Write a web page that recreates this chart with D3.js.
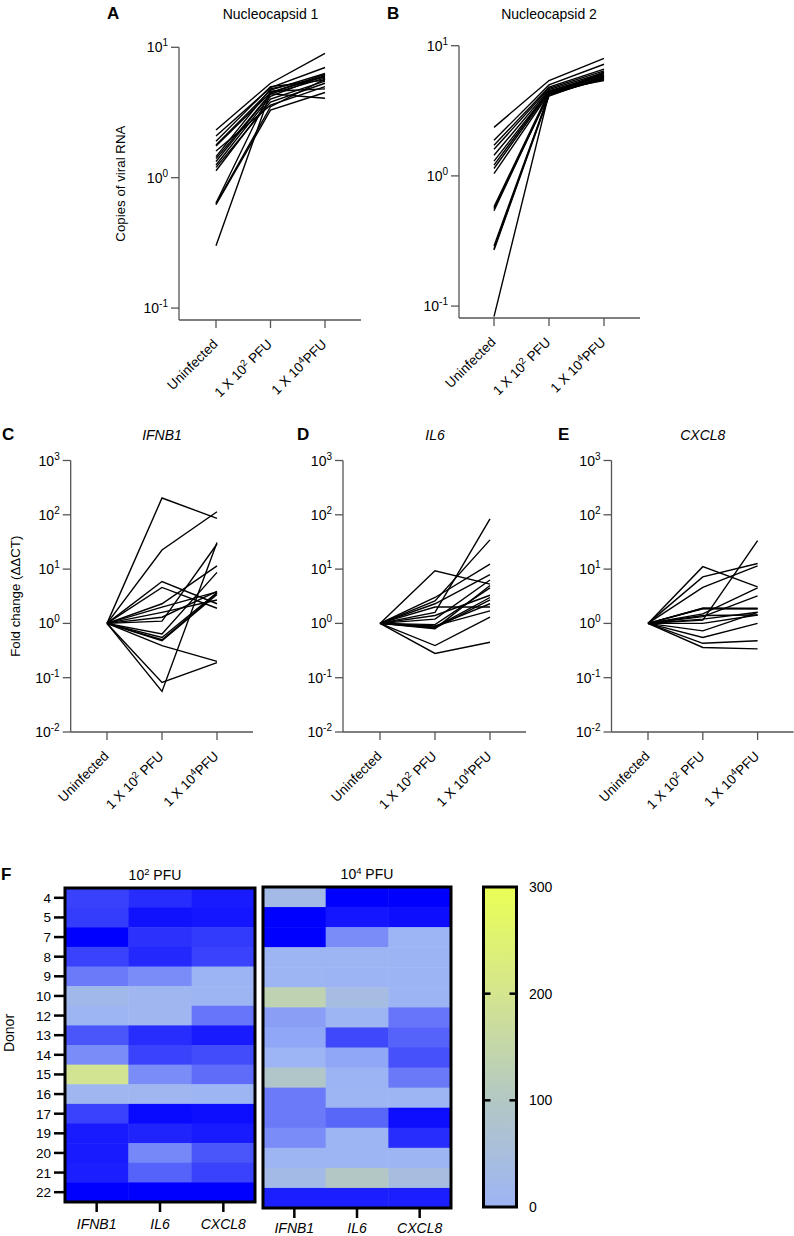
<!DOCTYPE html>
<html><head><meta charset="utf-8">
<script src="https://cdn.jsdelivr.net/npm/d3@7"></script>
<style>
body{margin:0;background:#fff;}
svg text{font-family:"Liberation Sans",Arial,sans-serif;fill:#000;}
</style></head>
<body>
<svg id="chart" width="794" height="1236"></svg>
<script>
// ---------- DATA ----------
const categories = ["Uninfected", "1 X 10^2 PFU", "1 X 10^4PFU"];
const categoryLabels = [["Uninfected"], ["1 X 10", "2", " PFU"], ["1 X 10", "4", "PFU"]];
const nucTicks = [0.1, 1, 10];
const foldTicks = [0.01, 0.1, 1, 10, 100, 1000];

// Nucleocapsid 1 : one row per donor [uninfected, 1x10^2, 1x10^4]
const nuc1 = [
  [2.32, 5.3, 9.0], [2.09, 4.9, 7.0], [1.78, 4.7, 6.3], [1.75, 4.5, 6.0],
  [1.45, 4.8, 5.9], [1.33, 4.4, 5.8], [1.25, 4.2, 6.1], [1.13, 4.0, 5.5],
  [1.2, 3.8, 5.3], [0.64, 4.6, 4.8], [0.63, 3.5, 5.7], [0.62, 3.3, 4.5],
  [0.30, 4.5, 6.2], [1.4, 4.4, 4.07], [1.9, 5.0, 5.6], [1.6, 3.6, 5.0]
];
const nuc2 = [
  [2.36, 5.4, 8.0], [1.88, 5.0, 7.2], [1.72, 4.8, 6.6], [1.44, 4.6, 6.2],
  [1.21, 4.5, 6.0], [1.14, 4.4, 5.9], [1.04, 4.3, 5.7], [0.56, 4.2, 5.6],
  [0.54, 4.3, 5.5], [0.275, 4.2, 6.3], [0.27, 4.1, 5.8], [0.083, 4.3, 5.9],
  [1.6, 4.7, 6.4], [1.3, 4.5, 5.4], [0.58, 4.4, 6.1], [0.29, 4.2, 5.7]
];
const ifnb1 = [
  [1, 204, 86], [1, 22.5, 114], [1, 0.056, 31], [1, 0.082, 0.19],
  [1, 0.39, 0.2], [1, 5.9, 2.3], [1, 4.6, 1.9], [1, 2.3, 11.5],
  [1, 1.1, 29], [1, 0.64, 8.7], [1, 0.55, 3.7], [1, 0.5, 3.6],
  [1, 0.48, 3.4], [1, 1.6, 2.7], [1, 2.0, 3.8], [1, 1.3, 3.9]
];
const il6 = [
  [1, 9.3, 5.3], [1, 1.6, 84], [1, 2.6, 34.5], [1, 0.28, 0.45],
  [1, 0.39, 1.3], [1, 3.0, 12.4], [1, 2.3, 7.9], [1, 1.2, 6.3],
  [1, 0.85, 3.0], [1, 0.82, 2.7], [1, 0.88, 2.3], [1, 0.9, 1.7],
  [1, 1.4, 3.3], [1, 0.95, 4.5], [1, 2.0, 2.0], [1, 0.8, 5.0]
];
const cxcl8 = [
  [1, 11.1, 4.7], [1, 7.2, 12.7], [1, 4.6, 11.5], [1, 1.15, 33.5],
  [1, 1.9, 1.85], [1, 1.85, 1.85], [1, 1.5, 4.5], [1, 1.33, 3.2],
  [1, 1.2, 1.6], [1, 1.0, 1.43], [1, 0.73, 1.6], [1, 0.55, 1.0],
  [1, 0.43, 0.48], [1, 0.36, 0.34], [1, 1.4, 1.43], [1, 1.9, 1.9]
];

// Heatmap
const donors = ["4","5","7","8","9","10","12","13","14","15","16","17","19","20","21","22"];
const genes = ["IFNB1", "IL6", "CXCL8"];
const heat102IFNB1 = [-64,-66,-100,-63,-32,20,5,-53,-22,195,10,-63,-85,-85,-83,-100];
const heat102IL6   = [-75,-90,-72,-78,-22,8,8,-75,-63,-22,10,-95,-80,-25,-45,-100];
const heat102CXCL8 = [-85,-88,-68,-63,2,3,-35,-85,-58,-40,5,-92,-85,-52,-63,-100];
const heat104IFNB1 = [30,-100,-100,3,3,135,-12,-8,0,90,-32,-32,-22,5,30,-83];
const heat104IL6   = [-100,-88,-22,3,2,40,5,-60,-8,2,5,-43,5,5,100,-83];
const heat104CXCL8 = [-100,-92,0,2,2,2,-35,-45,-55,-33,5,-92,-75,5,45,-83];
const colorTicks = [0, 100, 200, 300];

// ---------- DRAW ----------
const svg = d3.select("#chart");
const AXIS = "#555";

function supText(sel, parts, supSize, shift) {
  sel.append("tspan").text(parts[0]);
  if (parts.length > 1) {
    sel.append("tspan").attr("dy", -shift).attr("font-size", supSize).text(parts[1]);
    sel.append("tspan").attr("dy", shift).text(parts[2]);
  }
}
function powParts(v) {
  const e = Math.round(Math.log10(v));
  return ["10", e < 0 ? "-" + Math.abs(e) : String(e), ""];
}

function linePanel(o) {
  const g = svg.append("g");
  const x = d3.scalePoint().domain(categories).range([o.x0, o.x0 + 2 * o.step]);
  const y = d3.scaleLog().domain(o.domain).range([o.yBottom, o.yTop]);
  // y axis
  g.append("line").attr("x1", o.axisX).attr("x2", o.axisX).attr("y1", y(o.ticks[o.ticks.length-1])).attr("y2", o.yBottom)
    .attr("stroke", AXIS).attr("stroke-width", 1.3);
  o.ticks.forEach(t => {
    g.append("line").attr("x1", o.axisX - 8).attr("x2", o.axisX).attr("y1", y(t)).attr("y2", y(t))
      .attr("stroke", AXIS).attr("stroke-width", 1.3);
    const tx = g.append("text").attr("x", o.axisX - 11).attr("y", y(t) + 5).attr("text-anchor", "end")
      .attr("font-size", 14);
    supText(tx, powParts(t), 10, 6);
  });
  // x axis
  const xEnd = o.x0 + 2 * o.step + 36;
  g.append("line").attr("x1", o.axisX).attr("x2", xEnd).attr("y1", o.yBottom).attr("y2", o.yBottom)
    .attr("stroke", AXIS).attr("stroke-width", 1.3);
  categories.forEach((c, i) => {
    const cx = x(c);
    g.append("line").attr("x1", cx).attr("x2", cx).attr("y1", o.yBottom).attr("y2", o.yBottom + 8)
      .attr("stroke", AXIS).attr("stroke-width", 1.3);
    const tx = g.append("text").attr("text-anchor", "end").attr("font-size", 13.5)
      .attr("transform", `translate(${cx + 2.5},${o.yBottom + 25}) rotate(-45)`);
    supText(tx, categoryLabels[i], 9.5, 5);
  });
  // lines
  const line = d3.line().x((d, i) => x(categories[i])).y(d => y(d));
  g.selectAll("path.dl").data(o.data).join("path").attr("class", "dl")
    .attr("d", line).attr("fill", "none").attr("stroke", "#000").attr("stroke-width", 1.4)
    .attr("stroke-linejoin", "miter");
  // title, letter
  g.append("text").attr("x", x(categories[1])).attr("y", o.titleY).attr("text-anchor", "middle")
    .attr("font-size", 14).attr("font-style", o.italic ? "italic" : "normal").text(o.title);
  g.append("text").attr("x", o.letterX).attr("y", o.titleY).attr("font-size", 17).attr("font-weight", "bold").text(o.letter);
  if (o.ylabel) {
    g.append("text").attr("transform", `translate(${o.ylabelX},${(o.yTop + o.yBottom) / 2}) rotate(-90)`)
      .attr("text-anchor", "middle").attr("font-size", 13.3).text(o.ylabel);
  }
}

linePanel({data: nuc1, x0: 216, step: 54.5, axisX: 179, domain: [0.081, 10], yTop: 47.3, yBottom: 320,
  ticks: nucTicks, title: "Nucleocapsid 1", titleY: 19, letter: "A", letterX: 107, ylabel: "Copies of viral RNA", ylabelX: 125});
linePanel({data: nuc2, x0: 494, step: 55, axisX: 459, domain: [0.081, 10], yTop: 45.7, yBottom: 318,
  ticks: nucTicks, title: "Nucleocapsid 2", titleY: 19, letter: "B", letterX: 387});
linePanel({data: ifnb1, x0: 107, step: 55, axisX: 70.7, domain: [0.01, 1000], yTop: 460.5, yBottom: 732,
  ticks: foldTicks, title: "IFNB1", italic: true, titleY: 440, letter: "C", letterX: 2, ylabel: "Fold change (\u0394\u0394CT)", ylabelX: 20});
linePanel({data: il6, x0: 380, step: 55, axisX: 343, domain: [0.01, 1000], yTop: 460.5, yBottom: 732,
  ticks: foldTicks, title: "IL6", italic: true, titleY: 440, letter: "D", letterX: 297});
linePanel({data: cxcl8, x0: 648, step: 54.8, axisX: 611.5, domain: [0.01, 1000], yTop: 460.5, yBottom: 732,
  ticks: foldTicks, title: "CXCL8", italic: true, titleY: 440, letter: "E", letterX: 558});

// Heatmap
const color = d3.scaleLinear().domain([-100, 0, 100, 200, 300])
  .range(["#0000ff", "#9db4f5", "#b3c8c4", "#d4e58e", "#eaff55"]);

function heatmap(o) {
  const g = svg.append("g");
  const x = d3.scaleBand().domain(genes).range([o.x0, o.x1]);
  const y = d3.scaleBand().domain(donors).range([o.y0, o.y1]);
  const cells = [];
  o.cols.forEach((arr, j) => arr.forEach((v, i) => cells.push({g: genes[j], d: donors[i], v})));
  g.selectAll("rect.c").data(cells).join("rect").attr("class", "c")
    .attr("x", d => x(d.g)).attr("y", d => y(d.d)).attr("width", x.bandwidth() + 0.5).attr("height", y.bandwidth() + 0.5)
    .attr("fill", d => color(d.v));
  g.append("rect").attr("x", o.x0).attr("y", o.y0).attr("width", o.x1 - o.x0).attr("height", o.y1 - o.y0)
    .attr("fill", "none").attr("stroke", "#000").attr("stroke-width", 3);
  genes.forEach(ge => {
    const cx = x(ge) + x.bandwidth() / 2;
    g.append("line").attr("x1", cx).attr("x2", cx).attr("y1", o.y1).attr("y2", o.y1 + 10)
      .attr("stroke", "#000").attr("stroke-width", 2.5);
    g.append("text").attr("x", cx).attr("y", o.y1 + o.labelDy).attr("text-anchor", "middle").attr("font-size", 14)
      .attr("font-style", "italic").text(ge);
  });
  if (o.rowLabels) {
    donors.forEach(d => {
      const cy = y(d) + y.bandwidth() / 2;
      g.append("line").attr("x1", o.x0 - 11).attr("x2", o.x0).attr("y1", cy).attr("y2", cy)
        .attr("stroke", "#000").attr("stroke-width", 2.5);
      g.append("text").attr("x", o.x0 - 14).attr("y", cy + 5).attr("text-anchor", "end").attr("font-size", 13.5).text(d);
    });
  }
  const tt = g.append("text").attr("x", o.titleX).attr("y", o.y0 - 8).attr("text-anchor", "middle").attr("font-size", 14);
  supText(tt, o.title, 9.5, 5);
}

heatmap({x0: 65, x1: 255, y0: 888, y1: 1202, cols: [heat102IFNB1, heat102IL6, heat102CXCL8],
  rowLabels: true, title: ["10", "2", " PFU"], titleX: 155, labelDy: 27});
heatmap({x0: 263, x1: 451, y0: 887, y1: 1208, cols: [heat104IFNB1, heat104IL6, heat104CXCL8],
  rowLabels: false, title: ["10", "4", " PFU"], titleX: 367, labelDy: 25});

svg.append("text").attr("x", 1).attr("y", 880).attr("font-size", 17).attr("font-weight", "bold").text("F");
svg.append("text").attr("transform", "translate(14,1033) rotate(-90)").attr("text-anchor", "middle")
  .attr("font-size", 14).text("Donor");

// Colorbar
const cb = {x0: 483.5, x1: 516.5, y0: 887, y1: 1207};
const cy = d3.scaleLinear().domain([0, 300]).range([cb.y1, cb.y0]);
const defs = svg.append("defs");
const grad = defs.append("linearGradient").attr("id", "cbg").attr("x1", 0).attr("x2", 0).attr("y1", 1).attr("y2", 0);
colorTicks.forEach(t => grad.append("stop").attr("offset", t / 300).attr("stop-color", color(t)));
svg.append("rect").attr("x", cb.x0).attr("y", cb.y0).attr("width", cb.x1 - cb.x0).attr("height", cb.y1 - cb.y0)
  .attr("fill", "url(#cbg)").attr("stroke", "#000").attr("stroke-width", 3);
colorTicks.forEach(t => {
  if (t > 0 && t < 300) {
    svg.append("line").attr("x1", cb.x0).attr("x2", cb.x0 + 7).attr("y1", cy(t)).attr("y2", cy(t))
      .attr("stroke", "#000").attr("stroke-width", 2.5);
    svg.append("line").attr("x1", cb.x1 - 7).attr("x2", cb.x1).attr("y1", cy(t)).attr("y2", cy(t))
      .attr("stroke", "#000").attr("stroke-width", 2.5);
  }
  svg.append("text").attr("x", 529).attr("y", cy(t) + 5).attr("font-size", 14).text(t);
});
</script>
</body></html>
